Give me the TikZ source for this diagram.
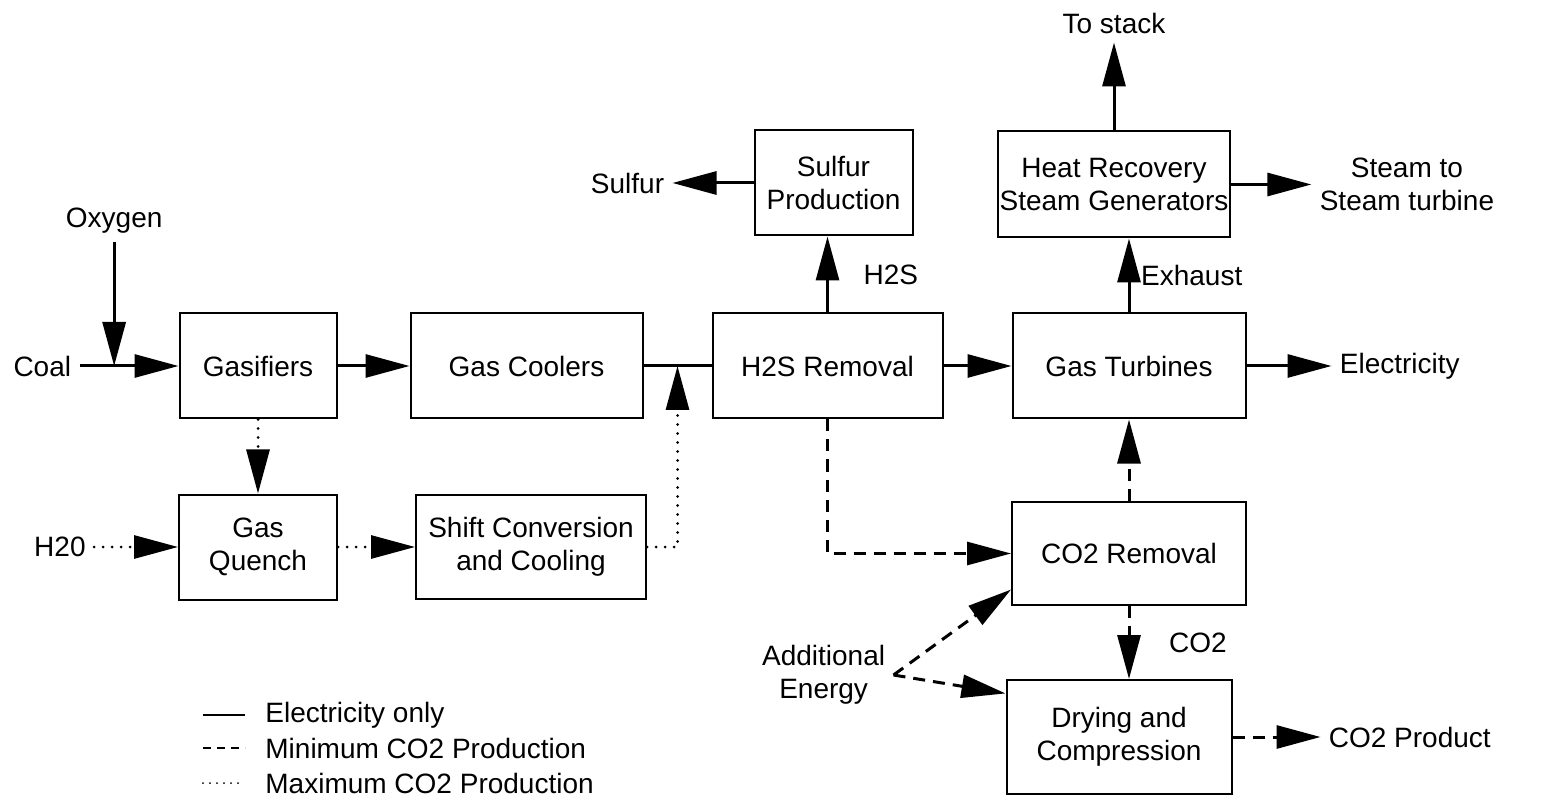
\documentclass[tikz,border=0pt]{standalone}
\usepackage{fontspec}
\setmainfont{Liberation Sans}
\usetikzlibrary{positioning,arrows.meta,calc}

\begin{document}
\begin{tikzpicture}[
    x=0.5pt, y=-0.5pt,
    font=\fontsize{14}{16.5}\selectfont,
    box/.style={rectangle, draw, line width=1pt, align=center, inner sep=1pt},
    lbl/.style={inner sep=4pt, align=center},
    arrow/.style={-{Triangle[length=22pt, width=11.5pt]}, line width=1.5pt},
    flow/.style={line width=1.5pt},
    minflow/.style={dash pattern=on 6pt off 4pt},
    maxflow/.style={dash pattern=on 0pt off 4.5pt, line cap=round},
    legline/.style={line width=1pt, shorten >=6pt}
]
\useasboundingbox (0,0) rectangle (1547,812);

% --- Main gas line ---
\node[box, minimum width=78.5pt, minimum height=52.5pt] (gasif) at (258,366) {Gasifiers};
\node[box, right=36pt of gasif, minimum width=116pt, minimum height=52.5pt] (coolers) {Gas Coolers};
\node[box, right=34pt of coolers, minimum width=115pt, minimum height=52.5pt] (h2srem) {H2S Removal};
\node[box, right=34pt of h2srem, minimum width=116.5pt, minimum height=52.5pt] (gasturb) {Gas Turbines};
\coordinate (junc) at ($(coolers.east)!0.5!(h2srem.west)$);

% --- Quench and shift ---
\node[box, below=37pt of gasif, minimum width=79pt, minimum height=52.5pt] (quench) {Gas\\Quench};
\node[box, right=38.5pt of quench, minimum width=115pt, minimum height=52pt] (shift) {Shift Conversion\\and Cooling};

% --- Sulfur and steam ---
\node[box, above=38pt of h2srem, xshift=3pt, minimum width=79pt, minimum height=52.5pt] (sulfprod) {Sulfur\\Production};
\node[box, above=37pt of gasturb, xshift=-7.5pt, minimum width=113pt, minimum height=53pt] (hrsg) {Heat Recovery\\Steam Generators};

% --- CO2 capture ---
\node[box, below=40.75pt of gasturb, minimum width=117pt, minimum height=51.5pt] (co2rem) {CO2 Removal};
\node[box, below=36.5pt of co2rem, xshift=-5pt, minimum width=112.5pt, minimum height=57pt] (drying) {Drying and\\Compression};

% --- Inputs and outputs ---
\node[lbl, left=49.5pt of gasif] (coal) {Coal};
\coordinate (oxjoin) at ($(coal.east)!0.35!(gasif.west)$);
\node[lbl, above=62pt of oxjoin] (oxygen) {Oxygen};
\node[lbl, left=42pt of quench] (h2o) {H20};
\node[lbl, left=40.5pt of sulfprod] (sulfur) {Sulfur};
\node[lbl, above=44pt of hrsg] (stack) {To stack};
\node[lbl, right=40pt of hrsg] (steam) {Steam to\\Steam turbine};
\node[lbl, right=42.5pt of gasturb] (elec) {Electricity};
\node[lbl, right=44pt of drying] (co2prod) {CO2 Product};
\node[lbl, left=56pt of drying.north west, yshift=2pt] (addE) {Additional\\Energy};

% --- Solid connectors ---
\draw[arrow] (coal) -- (gasif);
\draw[arrow] (oxygen) -- (oxjoin);
\draw[arrow] (gasif) -- (coolers);
\draw[flow] (coolers) -- (h2srem);
\draw[arrow] (h2srem) -- (gasturb);
\draw[arrow] (h2srem.north) -- (h2srem.north |- sulfprod.south) node[midway, right=14pt] {H2S};
\draw[arrow] (sulfprod) -- (sulfur);
\draw[arrow] (gasturb.north) -- (gasturb.north |- hrsg.south) node[midway, right=2pt] {Exhaust};
\draw[arrow] (hrsg) -- (stack);
\draw[arrow] (hrsg) -- (steam);
\draw[arrow] (gasturb) -- (elec);

% --- Dotted connectors ---
\draw[arrow, maxflow] (gasif) -- (quench);
\draw[arrow, maxflow] (h2o) -- (quench);
\draw[arrow, maxflow] (quench) -- (shift);
\draw[arrow, maxflow] (shift.east) -| (junc);

% --- Dashed connectors ---
\draw[arrow, minflow] (h2srem.south) |- (co2rem.west);
\draw[arrow, minflow] (co2rem) -- (gasturb);
\draw[arrow, minflow] (co2rem.south) -- (co2rem.south |- drying.north) node[midway, right=16pt] {CO2};
\draw[arrow, minflow] (drying) -- (co2prod);
\draw[arrow, minflow] (addE.east) -- (co2rem.197);
\draw[arrow, minflow] (addE.east) -- (drying.159);

% --- Legend ---
\node[lbl, anchor=west] (leg1) at (257,715) {Electricity only};
\node[lbl, anchor=west] (leg2) at (257,748) {Minimum CO2 Production};
\node[lbl, anchor=west] (leg3) at (257,783) {Maximum CO2 Production};
\coordinate (leg1a) at (203,715);
\coordinate (leg2a) at (203,748);
\coordinate (leg3a) at (203,783);
\draw[legline] (leg1a) -- (leg1.west);
\draw[legline, dash pattern=on 4pt off 3pt] (leg2a) -- (leg2.west);
\draw[legline, dash pattern=on 0pt off 3.5pt, line cap=round] (leg3a) -- (leg3.west);

\end{tikzpicture}
\end{document}
